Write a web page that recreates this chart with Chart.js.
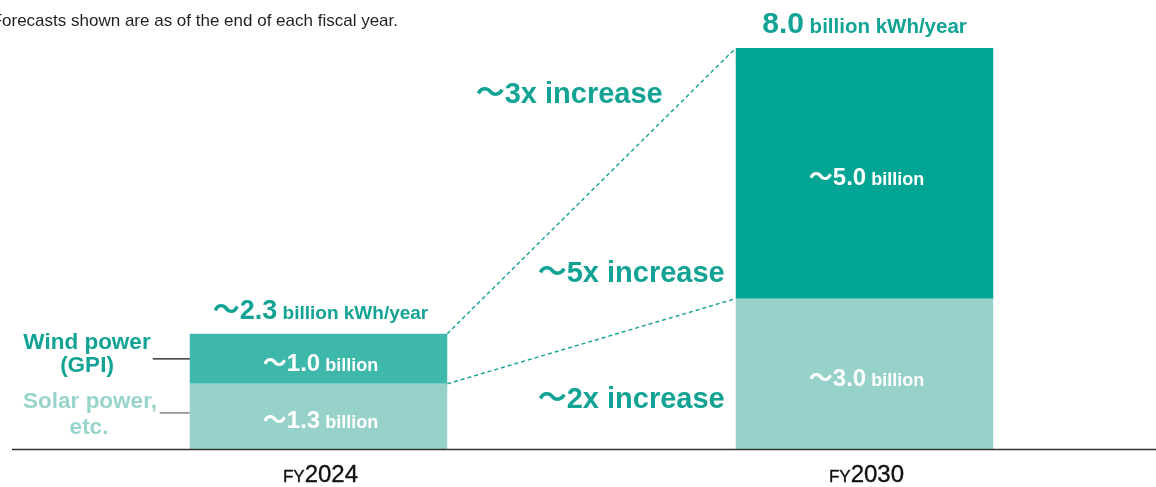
<!DOCTYPE html>
<html>
<head>
<meta charset="utf-8">
<script src="https://cdn.jsdelivr.net/npm/chart.js@4"></script>
<style>
  body { margin: 0; background: #fff; }
  #wrap { width: 1156px; height: 487px; position: relative; }
</style>
</head>
<body>
<div id="wrap"><canvas id="barChart"></canvas></div>
<script>
const categories = ["FY2024", "FY2030"];
const solarValues = [1.3, 3.0];
const windValues = [1.0, 5.0];
const totalLabels = ["\u301C2.3", "8.0"];
const solarLabels = ["\u301C1.3", "\u301C3.0"];
const windLabels = ["\u301C1.0", "\u301C5.0"];
const increaseLabels = ["\u301C3x increase", "\u301C5x increase", "\u301C2x increase"];
const seriesNames = [["Solar power,", "etc."], ["Wind power", "(GPI)"]];
const note = "Forecasts shown are as of the end of each fiscal year.";

const FONT = "'Liberation Sans', Arial, Helvetica, sans-serif";
const CJK = "'Noto Sans CJK JP', sans-serif";
const TEAL = "#12a394";
const SOLAR = "#96d2ca";
const WIND = ["#3db8ab", "#00a594"];

// split the wave dash off so it gets a font that has a wide one
function textParts(text, size, color) {
  if (text.startsWith("\u301C")) {
    return [
      { text: "\u301C", font: "bold " + size + "px " + CJK, color: color },
      { text: text.slice(1), font: "bold " + size + "px " + FONT, color: color },
    ];
  }
  return [{ text: text, font: "bold " + size + "px " + FONT, color: color }];
}

// draws a row of text pieces with different fonts
function drawParts(ctx, parts, x, y, align, stroke) {
  const widths = parts.map((p) => {
    ctx.font = p.font;
    return ctx.measureText(p.text).width;
  });
  const total = widths.reduce((a, b) => a + b, 0);
  let cx = align === "center" ? x - total / 2 : align === "right" ? x - total : x;
  ctx.textAlign = "left";
  ctx.textBaseline = "alphabetic";
  parts.forEach((p, i) => {
    ctx.font = p.font;
    ctx.fillStyle = p.color;
    ctx.fillText(p.text, cx, y);
    if (stroke) {
      ctx.strokeStyle = p.color;
      ctx.lineWidth = stroke;
      ctx.strokeText(p.text, cx, y);
    }
    cx += widths[i];
  });
}

const annotations = {
  id: "annotations",
  afterDatasetsDraw(chart) {
    const { ctx, scales: { y } } = chart;
    const solar = chart.getDatasetMeta(0).data;
    const wind = chart.getDatasetMeta(1).data;
    ctx.save();

    // base line
    ctx.strokeStyle = "#333";
    ctx.lineWidth = 1.5;
    ctx.beginPath();
    ctx.moveTo(12, y.getPixelForValue(0) + 0.5);
    ctx.lineTo(1156, y.getPixelForValue(0) + 0.5);
    ctx.stroke();

    // dashed growth lines
    ctx.strokeStyle = TEAL;
    ctx.lineWidth = 1.4;
    ctx.setLineDash([4, 3]);
    [wind, solar].forEach((bars) => {
      ctx.beginPath();
      ctx.moveTo(bars[0].x + bars[0].width / 2, bars[0].y);
      ctx.lineTo(bars[1].x - bars[1].width / 2, bars[1].y);
      ctx.stroke();
    });
    ctx.setLineDash([]);

    // totals above bars
    drawParts(ctx, textParts(totalLabels[0], 27, TEAL).concat([
      { text: " billion kWh/year", font: "bold 19px " + FONT, color: TEAL },
    ]), wind[0].x + 2, wind[0].y - 15, "center");
    drawParts(ctx, textParts(totalLabels[1], 30, TEAL).concat([
      { text: " billion kWh/year", font: "bold 20.5px " + FONT, color: TEAL },
    ]), wind[1].x, wind[1].y - 15, "center");

    // values inside bars
    [[solar, solarLabels], [wind, windLabels]].forEach(([bars, labels]) => {
      bars.forEach((b, i) => {
        const mid = (b.y + b.base) / 2;
        drawParts(ctx, textParts(labels[i], 24, "#fff").concat([
          { text: " billion", font: "bold 18px " + FONT, color: "#fff" },
        ]), b.x + 2, mid + 12, "center");
      });
    });

    // increase labels
    const left1 = wind[1].x - wind[1].width / 2;
    drawParts(ctx, textParts(increaseLabels[0], 29, TEAL), left1 - 73, y.getPixelForValue(6.9), "right");
    drawParts(ctx, textParts(increaseLabels[1], 29, TEAL), left1 - 11, y.getPixelForValue(3.34), "right");
    drawParts(ctx, textParts(increaseLabels[2], 29, TEAL), left1 - 11, y.getPixelForValue(0.82), "right");

    // series names at the left with leader lines
    const left0 = wind[0].x - wind[0].width / 2;
    const windMid = (wind[0].y + wind[0].base) / 2;
    const solarMid = y.getPixelForValue(0.72);
    ctx.lineWidth = 1.2;
    ctx.strokeStyle = "#111";
    ctx.beginPath();
    ctx.moveTo(left0 - 37, windMid);
    ctx.lineTo(left0, windMid);
    ctx.stroke();
    ctx.strokeStyle = "#666";
    ctx.beginPath();
    ctx.moveTo(left0 - 30, solarMid);
    ctx.lineTo(left0, solarMid);
    ctx.stroke();

    ctx.textAlign = "center";
    ctx.textBaseline = "alphabetic";
    ctx.font = "bold 22.5px " + FONT;
    ctx.fillStyle = TEAL;
    ctx.fillText(seriesNames[1][0], 87, windMid - 10);
    ctx.fillText(seriesNames[1][1], 87, windMid + 13);
    ctx.fillStyle = "#98d4cb";
    ctx.fillText(seriesNames[0][0], 90, solarMid - 5);
    ctx.fillText(seriesNames[0][1], 89, solarMid + 21);

    // category labels
    wind.forEach((b, i) => {
      drawParts(ctx, [
        { text: categories[i].slice(0, 2), font: "17px " + FONT, color: "#111" },
        { text: categories[i].slice(2), font: "24px " + FONT, color: "#111" },
      ], b.x + 2, y.getPixelForValue(0) + 33, "center", 0.35);
    });

    // note (left part falls off the page)
    ctx.font = "17px " + FONT;
    ctx.fillStyle = "#231f20";
    ctx.textAlign = "right";
    ctx.fillText(note, 398, 26);

    ctx.restore();
  },
};

new Chart(document.getElementById("barChart").getContext("2d"), {
  type: "bar",
  data: {
    labels: categories,
    datasets: [
      { label: "Solar power, etc.", data: solarValues, backgroundColor: SOLAR },
      { label: "Wind power (GPI)", data: windValues, backgroundColor: WIND },
    ],
  },
  plugins: [annotations],
  options: {
    responsive: true,
    maintainAspectRatio: false,
    animation: { duration: 0 },
    layout: { padding: { left: 45.5, right: 18.5, top: 48, bottom: 38 } },
    datasets: { bar: { categoryPercentage: 1, barPercentage: 0.4716 } },
    plugins: { legend: { display: false }, tooltip: { enabled: false } },
    scales: {
      x: { stacked: true, display: false },
      y: { stacked: true, display: false, min: 0, max: 8 },
    },
  },
});
</script>
</body>
</html>
